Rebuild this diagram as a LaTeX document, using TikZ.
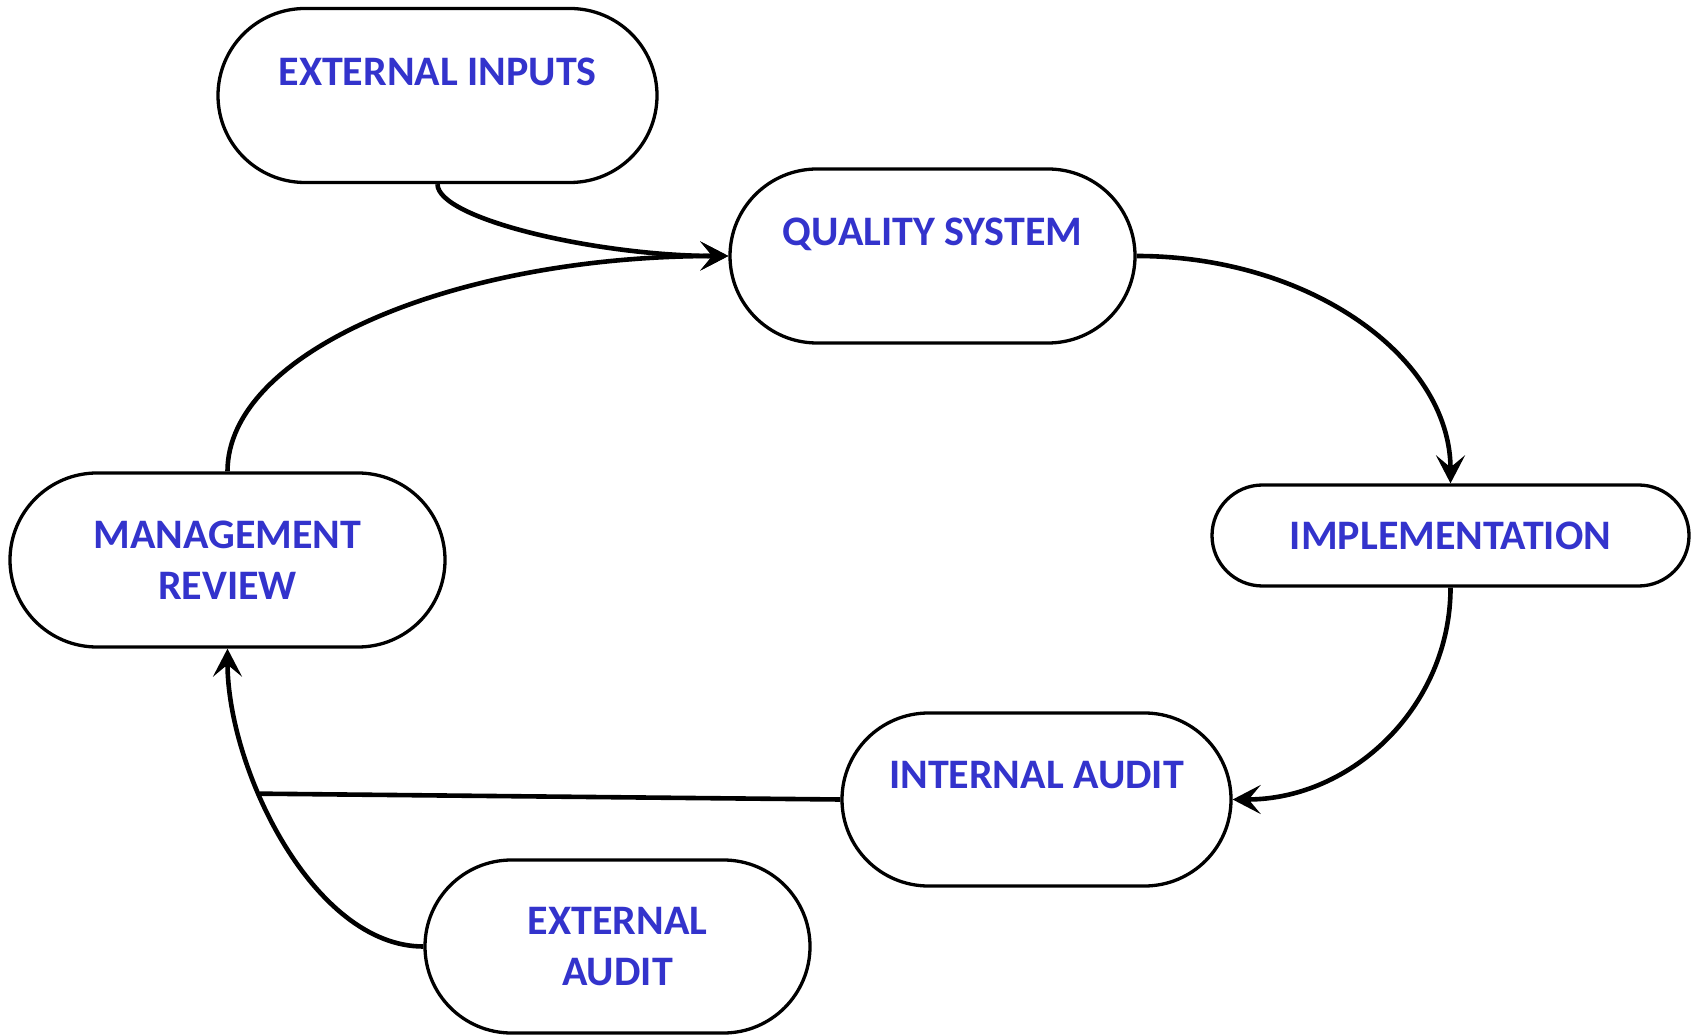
\documentclass[tikz,border=0pt]{standalone}
\usepackage{fontspec}
\setmainfont{Carlito}
\usetikzlibrary{arrows.meta}
\definecolor{txtblue}{RGB}{51,51,204}
\begin{document}
\begin{tikzpicture}[x=0.5pt,y=-0.5pt,
  box/.style={draw=black, line width=1.65pt, fill=white, rectangle, rounded corners=#1, inner sep=0pt, align=center, font=\fontsize{21}{25.5}\selectfont\bfseries, text=txtblue},
  conn/.style={line width=2.3pt, draw=black},
  arr/.style={conn, -{Stealth[length=14pt, width=14.5pt, inset=6pt]}}]
\useasboundingbox (0,0) rectangle (1701,1036);
\node[box=43.5pt, minimum width=219.5pt, minimum height=87pt] (ei) at (437.5,95.5) {EXTERNAL INPUTS\\[-9pt] \strut};
\node[box=43.5pt, minimum width=202.5pt, minimum height=87pt] (qs) at (932.5,256) {QUALITY SYSTEM\\[-9pt] \strut};
\node[box=25.25pt, minimum width=238.5pt, minimum height=50.5pt] (imp) at (1450.5,535.5) {IMPLEMENTATION};
\node[box=43.5pt, minimum width=217.5pt, minimum height=87pt] (mr) at (227.5,560) {MANAGEMENT\\REVIEW};
\node[box=43.25pt, minimum width=194.5pt, minimum height=86.5pt] (ia) at (1036.5,799.5) {INTERNAL AUDIT\\[-9pt] \strut};
\node[box=43.25pt, minimum width=192.5pt, minimum height=86.5pt] (ea) at (617.5,946.5) {EXTERNAL\\AUDIT};

\draw[arr] (ei.south) .. controls +(0,35) and +(-130,0) .. (qs.west);
\draw[arr] (mr.north) .. controls +(0,-119) and +(-276,0) .. (qs.west);
\draw[arr] (qs.east) .. controls +(173,0) and +(0,-126) .. (imp.north);
\draw[arr] (imp.south) .. controls +(0,118) and +(120,0) .. (ia.east);
\draw[arr] (ea.west) .. controls +(-110,0) and +(0,120) .. (mr.south) coordinate[pos=0.63] (j);
\draw[conn] (ia.west) -- (j);
\end{tikzpicture}
\end{document}
